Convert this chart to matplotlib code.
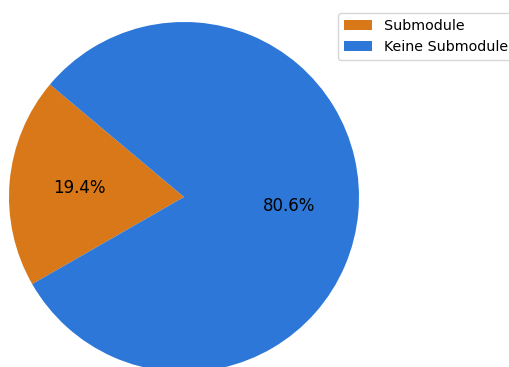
import matplotlib.pyplot as plt

labels = ["Submodule", "Keine Submodule"]
values = [19.4, 80.6]
colors = ["#d97818", "#2c77d8"]

fig = plt.figure(figsize=(5.10, 3.67), dpi=100)
ax = fig.add_axes([9 / 510, -5 / 367, 350 / 510, 350 / 367])

wedges, texts, autotexts = ax.pie(
    values,
    colors=colors,
    startangle=140,
    autopct="%1.1f%%",
    pctdistance=0.6,
    textprops={"fontsize": 12},
)
ax.set_xlim(-1, 1)
ax.set_ylim(-1, 1)
ax.set_aspect("equal")

fig.legend(
    wedges,
    labels,
    loc="upper left",
    bbox_to_anchor=(331 / 510, 1 - 6 / 367),
    fontsize=10.3,
)

fig.savefig("out.png", dpi=100)
